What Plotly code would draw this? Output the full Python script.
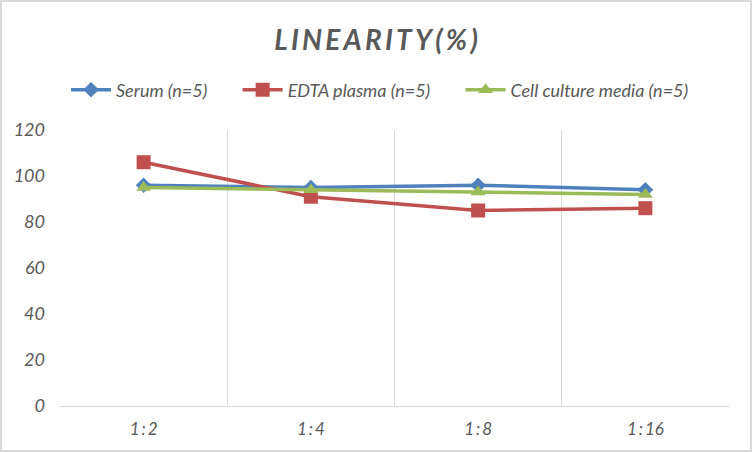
import plotly.graph_objects as go

# dilution points and recovery values
dilutions = ["1:2", "1:4", "1:8", "1:16"]
serum = [96, 95, 96, 94]
edta_plasma = [106, 91, 85, 86]
cell_culture = [95, 94, 93, 92]

names = ["Serum (n=5)", "EDTA plasma (n=5)", "Cell culture media (n=5)"]
colors = ["#4F81BD", "#C0504D", "#9BBB59"]
symbols = ["diamond", "square", "triangle-up"]
sizes = [12, 14, 13]

xpos = list(range(len(dilutions)))
pad = "\u00a0" * 6

fig = go.Figure()
for vals, name, color, sym, sz in zip([serum, edta_plasma, cell_culture], names, colors, symbols, sizes):
    fig.add_trace(go.Scatter(
        x=xpos, y=vals, name=name + pad, mode="lines+markers",
        line=dict(color=color, width=3.5),
        marker=dict(symbol=sym, size=sz, color=color),
    ))

fig.update_layout(
    width=752, height=452,
    paper_bgcolor="white", plot_bgcolor="white",
    margin=dict(l=60, r=23, t=130, b=46, autoexpand=False),
    title=dict(
        text="\u2009".join("LINEARITY(%)"),
        x=0.5, xanchor="center", y=0.912, yanchor="middle",
        font=dict(family="Lato", size=28, color="#595959", weight="bold", style="italic"),
    ),
    legend=dict(
        orientation="h", x=0.009, xanchor="left", y=1.145, yanchor="middle",
        font=dict(family="Lato", size=18, color="#595959", style="italic"),
        itemwidth=40,
    ),
    showlegend=True,
)

fig.update_xaxes(
    range=[-0.5, 3.5], tickvals=xpos,
    ticktext=[s.replace(":", "\u2009:\u2009") for s in dilutions],
    showgrid=False, zeroline=False, showline=True, linecolor="#d9d9d9",
    tickfont=dict(family="Lato", size=17, color="#595959", style="italic"),
    ticklabelstandoff=8,
    minor=dict(tick0=-0.5, dtick=1, showgrid=True, gridcolor="#d9d9d9", gridwidth=1),
)
fig.update_yaxes(
    range=[0, 120], dtick=20, showgrid=False, zeroline=False, showline=False,
    tickfont=dict(family="Lato", size=18, color="#595959", style="italic"),
    ticklabelstandoff=14,
)

# light border around the whole chart
fig.add_shape(type="rect", xref="paper", yref="paper",
              x0=-59 / 669, x1=691 / 669,
              y0=-45 / 276, y1=405 / 276,
              line=dict(color="#d9d9d9", width=2))

fig.write_html("out.html", config={"displayModeBar": False},
               post_script="document.body.style.margin='0';")
